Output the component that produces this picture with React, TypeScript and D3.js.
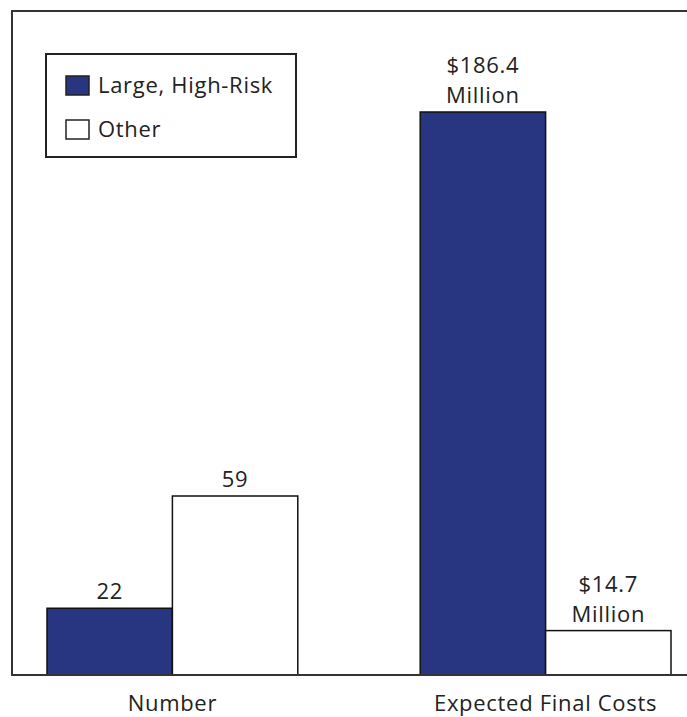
import React from "react";
import * as d3 from "d3";

const categories = ["Number", "Expected Final Costs"];
const seriesNames = ["Large, High-Risk", "Other"];
const numberValues = [22, 59];
const costValues = [186.4, 14.7];
const numberLabels = [["22"], ["59"]];
const costLabels = [["$186.4", "Million"], ["$14.7", "Million"]];

const W = 687;
const H = 717;
const BASE = 675;
const BLUE = "#283580";
const FONT = "'Open Sans', 'Noto Sans', sans-serif";
const FS = 22;
const LS = 0.7;

export default function App() {
  const x0 = d3.scaleBand<string>().domain(categories).range([47, 671]).paddingInner(0.328).paddingOuter(0);
  const x1 = d3.scaleBand<string>().domain(seriesNames).range([0, x0.bandwidth()]).padding(0);
  const yNum = d3.scaleLinear().domain([0, 59]).range([BASE, 496]);
  const yCost = d3.scaleLinear().domain([0, 186.4]).range([BASE, 112]);

  const groups = [
    { cat: categories[0], values: numberValues, labels: numberLabels, y: yNum },
    { cat: categories[1], values: costValues, labels: costLabels, y: yCost },
  ];

  return (
    <svg width={W} height={H} style={{ position: "absolute", left: 0, top: 0, background: "#fff" }} fontFamily={FONT} letterSpacing={LS}>
      <rect x={0} y={0} width={W} height={H} fill="#fff" />
      <rect x={12} y={11} width={W + 20} height={BASE - 11} fill="none" stroke="#333" strokeWidth={2} />
      {groups.map((g) => (
        <g key={g.cat} transform={`translate(${x0(g.cat)},0)`}>
          {g.values.map((v, i) => {
            const xx = x1(seriesNames[i])!;
            const bw = x1.bandwidth();
            const top = g.y(v);
            const lines = g.labels[i];
            return (
              <g key={i}>
                <rect x={xx} y={top} width={bw} height={BASE - top} fill={i === 0 ? BLUE : "#fff"} stroke="#111" strokeWidth={1.5} />
                {lines.map((t, j) => (
                  <text key={j} x={xx + bw / 2} y={top - 9 - (lines.length - 1 - j) * 30} textAnchor="middle" fontSize={FS} fill="#222">
                    {t}
                  </text>
                ))}
              </g>
            );
          })}
          <text x={x0.bandwidth() / 2} y={711} textAnchor="middle" fontSize={FS} fill="#222">
            {g.cat}
          </text>
        </g>
      ))}
      <line x1={12} x2={W} y1={BASE} y2={BASE} stroke="#333" strokeWidth={2} />
      <g>
        <rect x={46} y={54} width={250} height={103} fill="#fff" stroke="#222" strokeWidth={2} />
        {seriesNames.map((s, i) => (
          <g key={s} transform={`translate(66,${76 + i * 44})`}>
            <rect x={0} y={0} width={23} height={19} fill={i === 0 ? BLUE : "#fff"} stroke="#222" strokeWidth={1.5} />
            <text x={32} y={17} fontSize={FS} fill="#222">{s}</text>
          </g>
        ))}
      </g>
    </svg>
  );
}
